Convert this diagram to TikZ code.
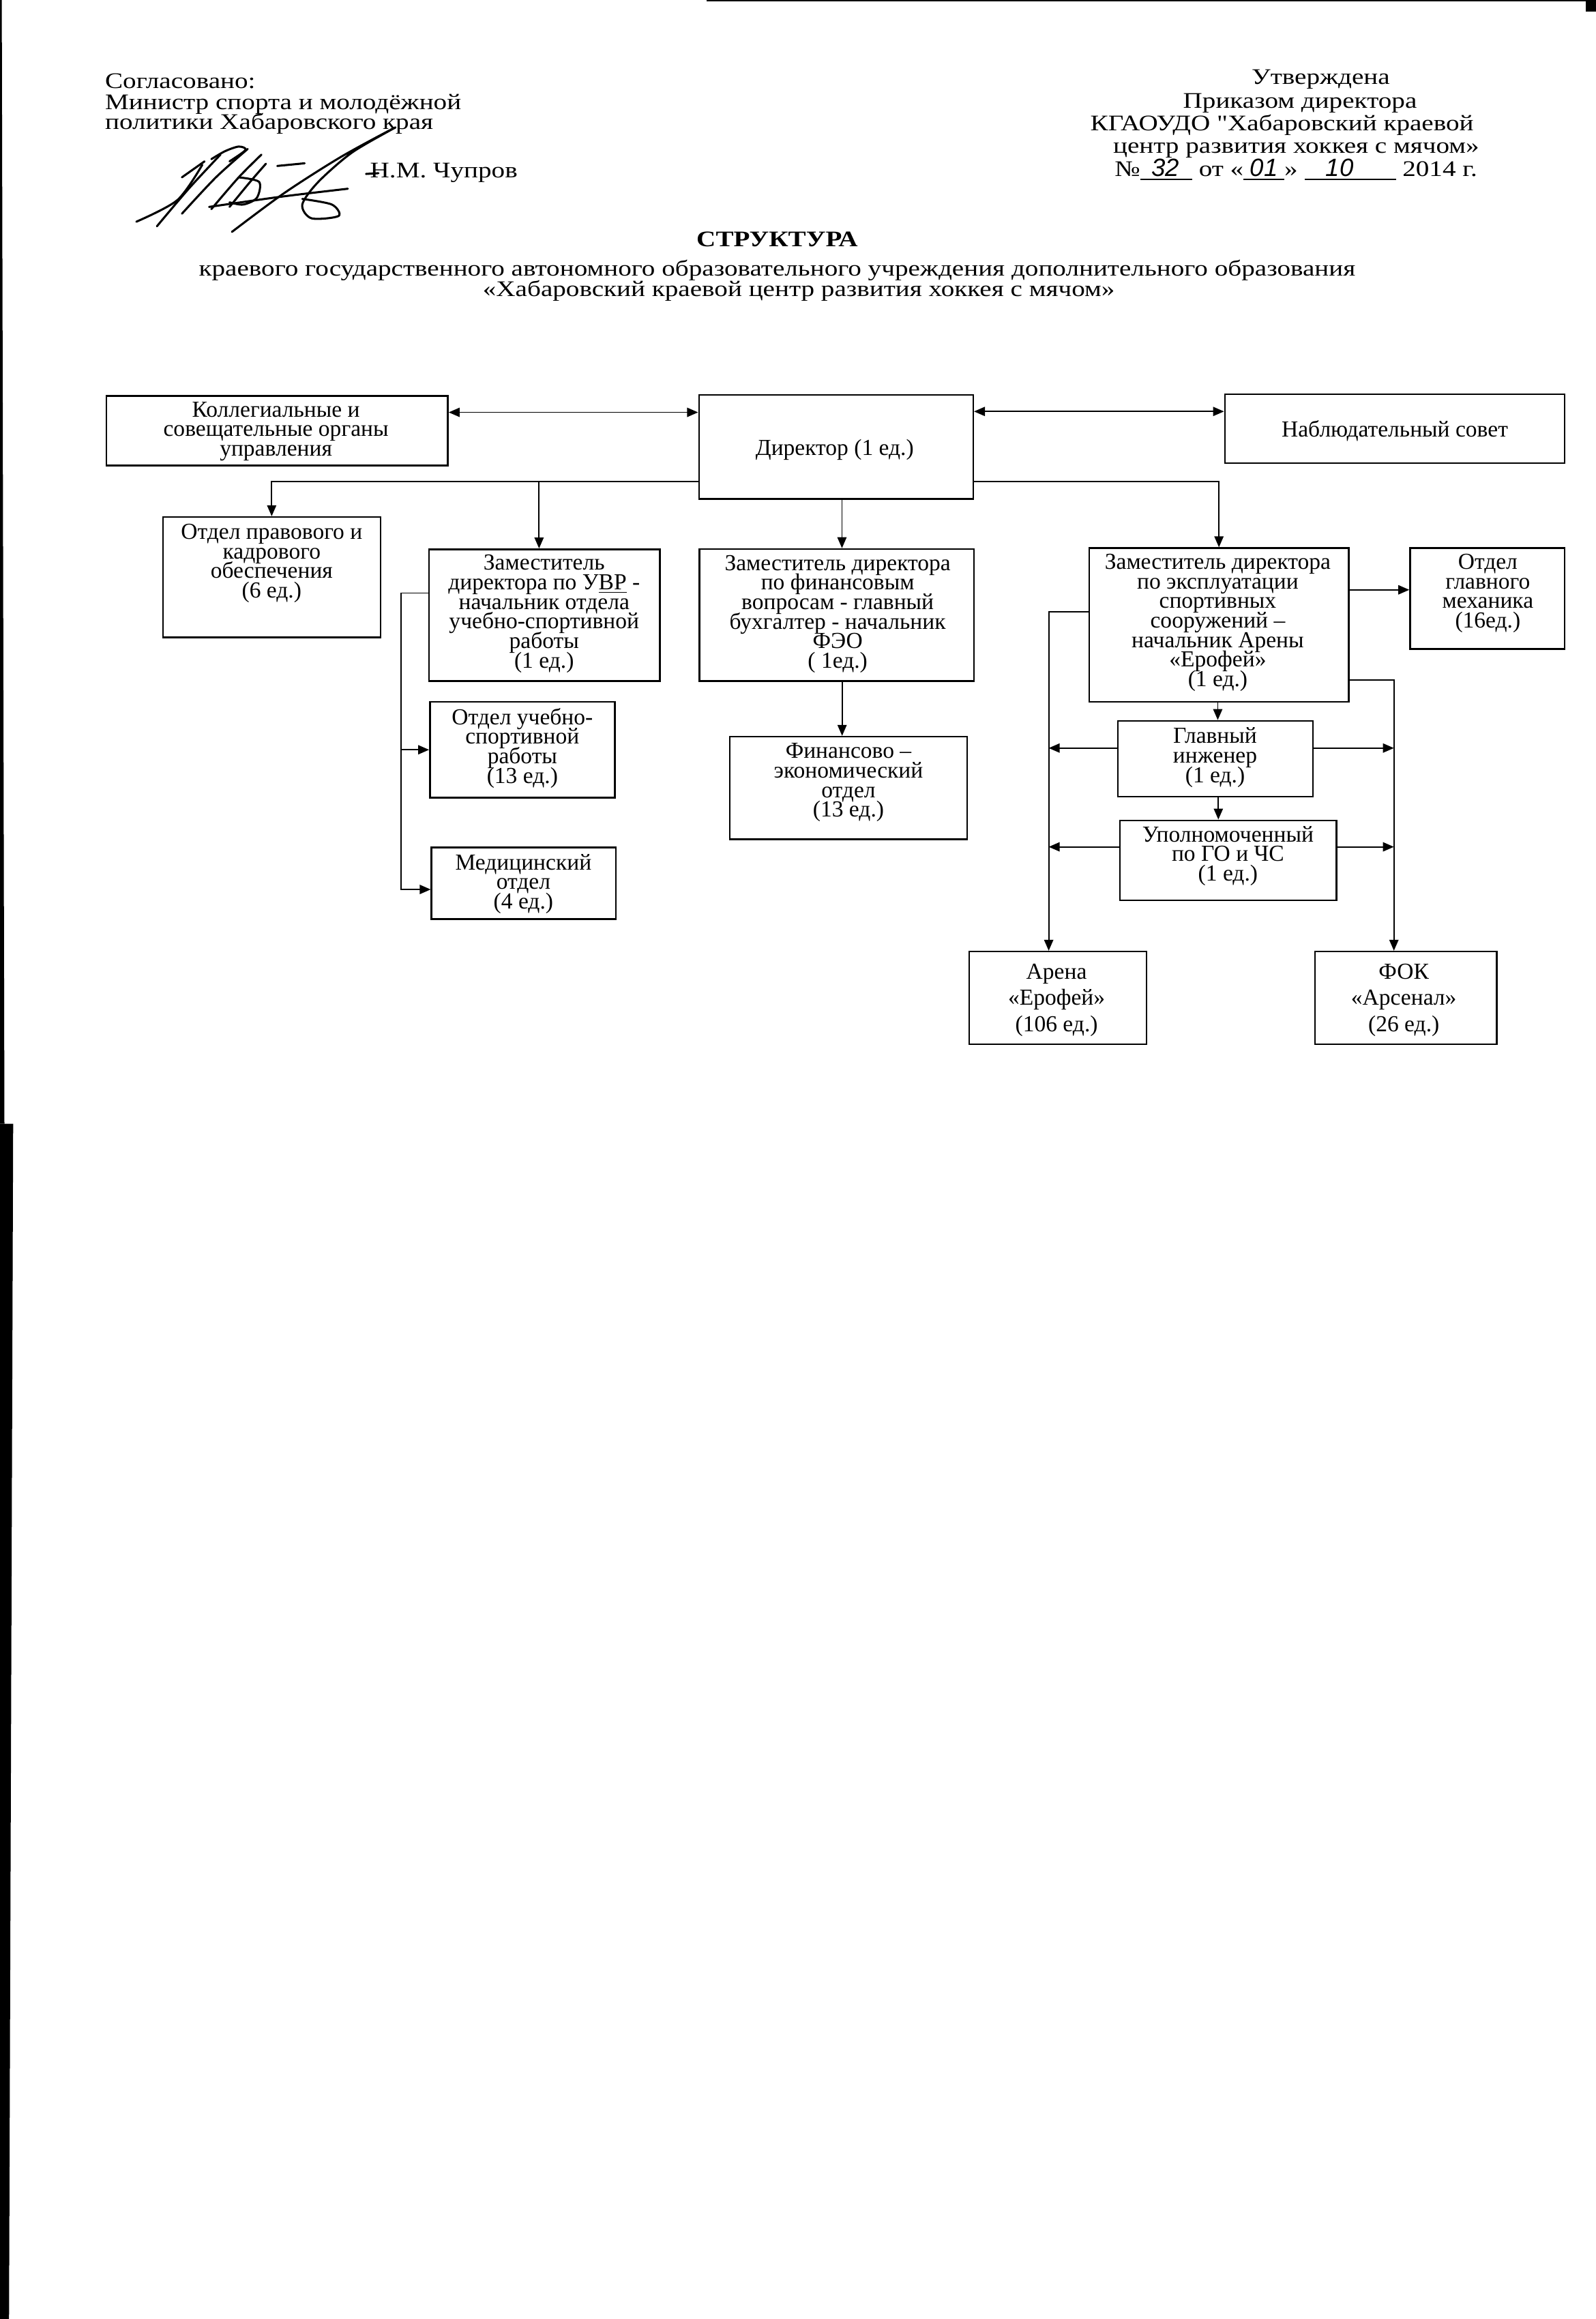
\documentclass[tikz,border=0pt]{standalone}
\usepackage{fontspec}
\setmainfont{Liberation Serif}
\newfontfamily\hdrfont{Liberation Serif}[FakeStretch=1.2]
\newfontfamily\handfont{Liberation Sans}
\newcommand\handnum[1]{{\handfont\itshape\fontsize{12}{12}\selectfont#1}}
\newcommand\tightlines{\lineskiplimit=-20pt\relax}
\usetikzlibrary{arrows.meta,positioning}

\begin{document}
\begin{tikzpicture}[x=0.025cm, y=-0.025cm,
		orgbox/.style={draw, line width=0.8pt, inner sep=0pt},
		boxtext/.style={align=center, inner sep=0pt, font=\fontsize{11}{9.4}\selectfont\tightlines},
		link/.style={line width=0.6pt},
		arr/.style={link, -{Triangle[length=1.85mm,width=1.55mm]}},
		darr/.style={link, {Triangle[length=1.85mm,width=1.55mm]}-{Triangle[length=1.85mm,width=1.55mm]}},
		hdr/.style={inner sep=0pt, anchor=base west, font=\hdrfont\fontsize{10.7}{10}\selectfont},
		sign/.style={line width=1pt, line cap=round, line join=round}]
	\useasboundingbox (0,0) rectangle (1079,1568);

	% scan edges
	\fill (0,0) -- (1.2,0) -- (3,759.8) -- (0,759.8) -- cycle;
	\fill (0,759.8) -- (8.9,759.8) -- (6.1,1568) -- (0,1568) -- cycle;
	\fill (478,0) rectangle (1079,1.1);
	\fill (1072,0) rectangle (1079,7.7);

	% header
	\node[hdr] (agr1) at (70.8,59.6) {Согласовано:};
	\node[hdr] (agr2) at (70.8,73.8) {Министр спорта и молодёжной};
	\node[hdr] (agr3) at (70.8,87.6) {политики Хабаровского края};
	\node[hdr] (chupr) at (250,120.3) {Н.М. Чупров};
	\node[hdr] (apr1) at (846,56.9) {Утверждена};
	\node[hdr] (apr2) at (799.7,73) {Приказом директора};
	\node[hdr] (apr3) at (737,88.4) {КГАОУДО "Хабаровский краевой};
	\node[hdr] (apr4) at (752.4,103.7) {центр развития хоккея с мячом»};
	\node[hdr] (apr5) at (753.4,119.1) {№\underline{\makebox[0.88cm][l]{\hspace{0.19cm}\handnum{32}}} от
		«\underline{\makebox[0.69cm][l]{\hspace{0.11cm}\handnum{01}}}»
		\underline{\makebox[1.545cm][l]{\hspace{0.36cm}\handnum{10}}} 2014 г.};

	% signature
	\draw[sign] plot[smooth] coordinates {(156.8,156.8) (192.1,130.6) (230.5,106.1) (267.4,86.1)
		(238.2,103) (215.2,123) (204.4,138.3) (210.6,147.6) (229,146) (224.4,138.3) (204.4,134.5)};
	\draw[sign] plot[smooth] coordinates {(141.4,139.9) (190,133) (235.2,127.6)};
	\draw[sign] plot[smooth] coordinates {(92.2,149.9) (119.9,135.3) (136.8,111.4)};
	\draw[sign] plot[smooth] coordinates {(106.1,153) (127.6,127.6) (149.1,104.5)};
	\draw[sign] plot[smooth] coordinates {(123,144.5) (146,119.9) (167.5,100.7)};
	\draw[sign] plot[smooth] coordinates {(142.9,141.4) (161.4,119.9) (176.8,104.5)};
	\draw[sign] plot[smooth] coordinates {(155.2,139.9) (169.1,123) (179.8,110.7)};
	\draw[sign] plot[smooth] coordinates {(161.4,119.9) (175.2,123) (173.7,133.7) (164.5,138.3) (155.2,136.8)};
	\draw[sign] plot[smooth] coordinates {(123,119.9) (138.3,109.1)};
	\draw[sign] plot[smooth] coordinates {(142.9,107.6) (152.2,102.2) (161.4,99.1) (166,101.4) (155.2,109.1)};
	\draw[sign] (187.5,112.2) -- (206,110.4);
	\draw[sign] (247.5,117.6) -- (255.9,117.1);

	% title
	\node[hdr, anchor=base, font=\hdrfont\bfseries\fontsize{10.7}{10}\selectfont] (title) at (525.5,166.8) {СТРУКТУРА};
	\node[hdr, anchor=base] (sub1) at (525.5,186.4) {краевого государственного автономного образовательного учреждения дополнительного образования};
	\node[hdr, anchor=base] (sub2) at (540.1,200.2) {«Хабаровский краевой центр развития хоккея с мячом»};

	% boxes
	\node[orgbox, minimum width=5.773cm, minimum height=1.178cm] (koll) at (187.35,291.25) {};
	\node[orgbox, minimum width=4.635cm, minimum height=1.76cm] (dir) at (565.3,302.2) {};
	\node[orgbox, minimum width=5.745cm, minimum height=1.165cm] (nabl) at (943.1,289.9) {};
	\node[orgbox, minimum width=3.675cm, minimum height=2.035cm] (pravo) at (183.7,390.3) {};
	\node[orgbox, minimum width=3.905cm, minimum height=2.228cm] (uvr) at (368.1,415.95) {};
	\node[orgbox, minimum width=4.638cm, minimum height=2.23cm] (fin) at (565.75,415.8) {};
	\node[orgbox, minimum width=4.39cm, minimum height=2.595cm] (expl) at (824.2,422.5) {};
	\node[orgbox, minimum width=2.613cm, minimum height=1.708cm] (meh) at (1005.75,404.65) {};
	\node[orgbox, minimum width=3.125cm, minimum height=1.618cm] (usr) at (353.2,506.95) {};
	\node[orgbox, minimum width=3.115cm, minimum height=1.208cm] (med) at (354.1,597.25) {};
	\node[orgbox, minimum width=4.008cm, minimum height=1.733cm] (feo) at (573.75,532.75) {};
	\node[orgbox, minimum width=3.298cm, minimum height=1.28cm] (ing) at (821.85,513) {};
	\node[orgbox, minimum width=3.658cm, minimum height=1.348cm] (gochs) at (830.45,581.65) {};
	\node[orgbox, minimum width=2.998cm, minimum height=1.568cm] (arena) at (715.35,674.75) {};
	\node[orgbox, minimum width=3.075cm, minimum height=1.568cm] (fok) at (950.6,674.75) {};

	% texts
	\node[boxtext] (koll-t) at (186.6,291.7) {Коллегиальные и\\совещательные органы\\управления};
	\node[boxtext] (dir-t) at (564.4,304.3) {Директор (1 ед.)};
	\node[boxtext] (nabl-t) at (943.1,291.3) {Наблюдательный совет};
	\node[boxtext] (pravo-t) at (183.7,380.9) {Отдел правового и\\кадрового\\обеспечения\\(6 ед.)};
	\node[boxtext] (uvr-t) at (367.9,415) {Заместитель\\директора по У\underline{ВР} -\\начальник отдела\\учебно-спортивной\\работы\\(1 ед.)};
	\node[boxtext] (fin-t) at (566.4,415.2) {Заместитель директора\\по финансовым\\вопросам - главный\\бухгалтер - начальник\\ФЭО\\( 1ед.)};
	\node[boxtext] (expl-t) at (823.4,421.05) {Заместитель директора\\по эксплуатации\\спортивных\\сооружений –\\начальник Арены\\«Ерофей»\\(1 ед.)};
	\node[boxtext] (meh-t) at (1006,401.2) {Отдел\\главного\\механика\\(16ед.)};
	\node[boxtext] (usr-t) at (353.2,505.8) {Отдел учебно-\\спортивной\\работы\\(13 ед.)};
	\node[boxtext] (med-t) at (353.9,597.6) {Медицинский\\отдел\\(4 ед.)};
	\node[boxtext] (feo-t) at (573.7,529.2) {Финансово –\\экономический\\отдел\\(13 ед.)};
	\node[boxtext] (ing-t) at (821.6,512.1) {Главный\\инженер\\(1 ед.)};
	\node[boxtext] (gochs-t) at (830.3,578.8) {Уполномоченный\\по ГО и ЧС\\(1 ед.)};
	\node[boxtext, font=\fontsize{11}{12.6}\selectfont] (arena-t) at (714.4,676.15) {Арена\\«Ерофей»\\(106 ед.)};
	\node[boxtext, font=\fontsize{11}{12.6}\selectfont] (fok-t) at (949.2,676.15) {ФОК\\«Арсенал»\\(26 ед.)};

	% links
	\draw[darr] (koll.east |- 0,278.8) -- (dir.west |- 0,278.8);
	\draw[darr] (dir.east |- 0,278.2) -- (nabl.west |- 0,278.2);
	\coordinate (dl) at (dir.west |- 0,325.7);
	\coordinate (dr) at (dir.east |- 0,325.4);
	\draw[arr] (dl) -| (pravo.north);
	\draw[arr] (dl -| 364.5,0) -- (364.5,0 |- uvr.north);
	\draw[arr] (569.3,0 |- dir.south) -- (569.3,0 |- fin.north);
	\draw[arr] (dr) -| (expl.north);
	\draw[arr] (569.4,0 |- fin.south) -- (569.4,0 |- feo.north);

	\coordinate (ub) at (271.2,401);
	\draw[arr] (uvr.west |- ub) -- (ub) |- (med.west |- 0,601.4);
	\draw[arr] (ub |- usr.west) -- (usr.west);

	\coordinate (el) at (709.1,413.6);
	\coordinate (er) at (942.5,459.9);
	\draw[arr] (expl.east |- 0,398.8) -- (meh.west |- 0,398.8);
	\draw[arr] (expl.west |- el) -- (el) -- (el |- arena.north);
	\draw[arr] (expl.east |- er) -- (er) -- (er |- fok.north);
	\draw[arr] (823.4,0 |- expl.south) -- (823.4,0 |- ing.north);
	\draw[arr] (823.8,0 |- ing.south) -- (823.8,0 |- gochs.north);
	\draw[arr] (ing.west |- 0,505.8) -- (el |- 0,505.8);
	\draw[arr] (ing.east |- 0,505.8) -- (er |- 0,505.8);
	\draw[arr] (gochs.west |- 0,572.6) -- (el |- 0,572.6);
	\draw[arr] (gochs.east |- 0,572.6) -- (er |- 0,572.6);
\end{tikzpicture}
\end{document}
